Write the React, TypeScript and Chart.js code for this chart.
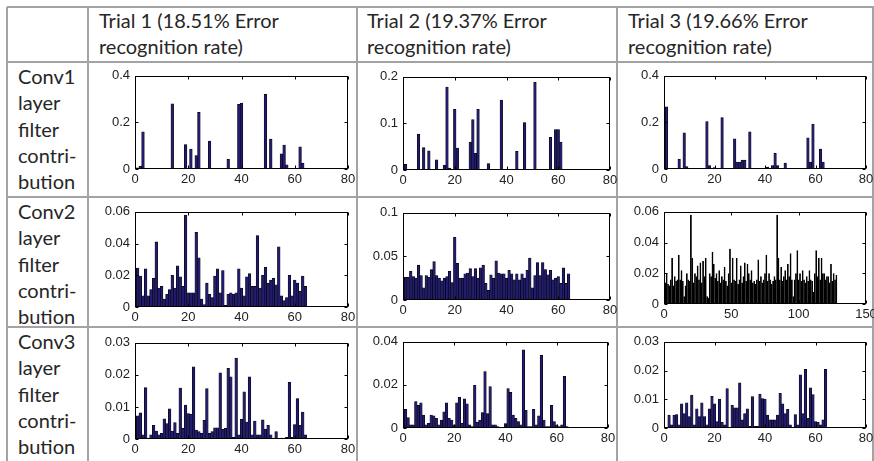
import React, { useEffect, useRef } from "react";
import { Chart, registerables } from "chart.js";

Chart.register(...registerables);

// ---------------- data ----------------
const headerLines: string[][] = [
  ["Trial 1 (18.51% Error", "recognition rate)"],
  ["Trial 2 (19.37% Error", "recognition rate)"],
  ["Trial 3 (19.66% Error", "recognition rate)"],
];

const rowLabelLines: string[][] = [
  ["Conv1", "layer", "filter", "contri-", "bution"],
  ["Conv2", "layer", "filter", "contri-", "bution"],
  ["Conv3", "layer", "filter", "contri-", "bution"],
];

const conv1Trial1 = [
  0.005, 0.012, 0.16, 0, 0, 0, 0, 0,
  0, 0, 0, 0, 0, 0.28, 0, 0,
  0, 0, 0.105, 0, 0.086, 0, 0.058, 0.243,
  0.002, 0, 0, 0.12, 0, 0, 0, 0,
  0, 0, 0.042, 0, 0, 0, 0.278, 0.283,
  0, 0, 0, 0, 0, 0, 0, 0,
  0.32, 0, 0.128, 0, 0, 0, 0.065, 0.103,
  0.018, 0, 0, 0, 0, 0.095, 0.025, 0.003,
];

const conv1Trial2 = [
  0.012, 0, 0, 0, 0, 0.077, 0, 0.048,
  0, 0.041, 0, 0, 0.022, 0, 0, 0.01,
  0.178, 0.004, 0, 0.13, 0.047, 0, 0, 0,
  0, 0.06, 0.108, 0.036, 0.13, 0, 0, 0,
  0.014, 0, 0, 0, 0, 0.15, 0, 0,
  0, 0, 0, 0.04, 0, 0, 0.102, 0,
  0, 0, 0.188, 0, 0, 0, 0, 0,
  0.07, 0, 0.087, 0.087, 0.06, 0, 0, 0,
];

const conv1Trial3 = [
  0.267, 0, 0, 0, 0, 0.042, 0, 0.155,
  0.01, 0, 0, 0, 0, 0, 0, 0,
  0.204, 0.015, 0, 0.006, 0, 0, 0.221, 0,
  0, 0, 0.003, 0.13, 0.03, 0.03, 0.038, 0.038,
  0, 0.16, 0, 0, 0, 0, 0, 0,
  0.008, 0, 0.015, 0.067, 0.015, 0, 0, 0.025,
  0, 0, 0, 0, 0, 0, 0, 0,
  0.134, 0.03, 0.193, 0, 0, 0.085, 0.03, 0,
];

const conv2Trial1 = [
  0.0246, 0.0195, 0.007, 0.024, 0.007, 0.011, 0.018, 0.041,
  0.012, 0.013, 0.005, 0.008, 0.011, 0.02, 0.012, 0.026,
  0.019, 0.013, 0.058, 0.009, 0.009, 0.009, 0.047, 0.031,
  0.005, 0.0015, 0.015, 0.008, 0.006, 0.0195, 0.024, 0.009,
  0.023, 0.001, 0.008, 0.009, 0.008, 0.009, 0.024, 0.012,
  0.007, 0.019, 0.021, 0.013, 0.013, 0.045, 0.012, 0.02,
  0.025, 0.015, 0.017, 0.018, 0.014, 0.038, 0.007, 0.004,
  0.006, 0.02, 0.007, 0.017, 0.015, 0.01, 0.0195, 0.013,
];

const conv2Trial2 = [
  0.026, 0.026, 0.033, 0.027, 0.025, 0.04, 0.028, 0.014,
  0.028, 0.026, 0.035, 0.044, 0.028, 0.025, 0.022, 0.025,
  0.027, 0.033, 0.02, 0.072, 0.042, 0.025, 0.025, 0.03,
  0.031, 0.036, 0.027, 0.036, 0.025, 0.037, 0.04, 0.019,
  0.011, 0.029, 0.025, 0.045, 0.031, 0.03, 0.03, 0.025,
  0.034, 0.03, 0.023, 0.03, 0.023, 0.03, 0.025, 0.034,
  0.048, 0.014, 0.028, 0.043, 0.028, 0.043, 0.035, 0.029,
  0.034, 0.023, 0.025, 0.027, 0.019, 0.037, 0.019, 0.03,
];

const conv2Trial3 = [
  0.014, 0.02, 0.013, 0.012, 0.016, 0.03, 0.012, 0.018,
  0.015, 0.016, 0.032, 0.016, 0.022, 0.015, 0.005, 0.012,
  0.02, 0.016, 0.015, 0.058, 0.03, 0.014, 0.02, 0.018,
  0.025, 0.016, 0.027, 0.014, 0.028, 0.018, 0.03, 0.005,
  0.004, 0.02, 0.018, 0.034, 0.026, 0.017, 0.02, 0.015,
  0.022, 0.014, 0.018, 0.016, 0.024, 0.015, 0.012, 0.02,
  0.036, 0.014, 0.03, 0.016, 0.015, 0.03, 0.013, 0.016,
  0.025, 0.014, 0.018, 0.027, 0.015, 0.026, 0.02, 0.016,
  0.022, 0.014, 0.015, 0.013, 0.016, 0.029, 0.015, 0.018,
  0.014, 0.016, 0.02, 0.032, 0.015, 0.02, 0.016, 0.013,
  0.015, 0.018, 0.016, 0.058, 0.03, 0.016, 0.024, 0.015,
  0.018, 0.022, 0.016, 0.026, 0.018, 0.033, 0.016, 0.005,
  0.016, 0.02, 0.035, 0.016, 0.02, 0.015, 0.022, 0.016,
  0.014, 0.018, 0.015, 0.022, 0.016, 0.015, 0.008, 0.02,
  0.035, 0.018, 0.03, 0.016, 0.03, 0.02, 0.02, 0.016,
  0.018, 0.018, 0.014, 0.026, 0.015, 0.02, 0.016, 0.019,
];

const conv3Trial1 = [
  0.0072, 0.0082, 0.0013, 0.016, 0.0003, 0.0013, 0.0043, 0.0025,
  0.0013, 0.0018, 0.0063, 0.0048, 0.0094, 0.0025, 0.0051, 0.0018,
  0.0159, 0.0033, 0.0106, 0.0079, 0.0077, 0.0225, 0.0028, 0.0023,
  0.0018, 0.0058, 0.0157, 0.0018, 0.0023, 0.0035, 0.0035, 0.0206,
  0.003, 0.0033, 0.022, 0.0194, 0.0005, 0.0252, 0.0013, 0.0061,
  0.0147, 0.0053, 0.0194, 0.0013, 0.0056, 0.0013, 0.0013, 0.006,
  0.0031, 0.0043, 0.0013, 0.0003, 0.0023, 0.0001, 0.0003, 0.0003,
  0.0005, 0.0177, 0.0005, 0.0045, 0.0126, 0.0043, 0.0084, 0.0013,
];

const conv3Trial2 = [
  0.0087, 0.0048, 0.0015, 0.0015, 0.0123, 0.0105, 0.0117, 0.006,
  0.0015, 0.0022, 0.006, 0.0057, 0.0045, 0.0015, 0.0037, 0.0075,
  0.0117, 0.0045, 0.0037, 0.0015, 0.0117, 0.0142, 0.0022, 0.0135,
  0.0112, 0.0015, 0.0007, 0.0198, 0.0027, 0.0037, 0.0072, 0.0262,
  0.0067, 0.0192, 0.0015, 0.0015, 0.0007, 0.0003, 0.0003, 0.0021,
  0.0183, 0.0165, 0.006, 0.0045, 0.003, 0.0015, 0.0363, 0.0082,
  0.0007, 0.0007, 0.0087, 0.0015, 0.0057, 0.0337, 0.0037, 0.0007,
  0.0007, 0.0105, 0.003, 0.0015, 0.0007, 0.0015, 0.024, 0.0007,
];

const conv3Trial3 = [
  0.0002, 0.0045, 0.0011, 0.0045, 0.0047, 0.0011, 0.0084, 0.005,
  0.0088, 0.004, 0.0115, 0.0011, 0.0067, 0.004, 0.0088, 0.004,
  0.0011, 0.0067, 0.011, 0.0084, 0.0022, 0.0101, 0.002, 0.0011,
  0.0137, 0.0002, 0.0079, 0.007, 0.007, 0.0157, 0.0028, 0.005,
  0.0067, 0.0006, 0.0109, 0.0006, 0.0006, 0.0118, 0.0102, 0.0101,
  0.0045, 0.0028, 0.0028, 0.0028, 0.0045, 0.0121, 0.0084, 0.005,
  0.0065, 0.0011, 0.0002, 0.0047, 0.0011, 0.0185, 0.005, 0.0204,
  0.0034, 0.014, 0.0116, 0.0022, 0.002, 0.0011, 0.0028, 0.0204,
];

const panelSeries: number[][][] = [
  [conv1Trial1, conv1Trial2, conv1Trial3],
  [conv2Trial1, conv2Trial2, conv2Trial3],
  [conv3Trial1, conv3Trial2, conv3Trial3],
];

const yMaxes = [[0.4, 0.2, 0.4], [0.06, 0.1, 0.06], [0.03, 0.04, 0.03]];
const ySteps = [[0.2, 0.1, 0.2], [0.02, 0.05, 0.02], [0.01, 0.02, 0.01]];
const xMaxes = [[80, 80, 80], [80, 80, 150], [80, 80, 80]];
const xSteps = [[20, 20, 20], [20, 20, 50], [20, 20, 20]];

// ---------------- layout / style ----------------
// plot boxes: [left, top, right, bottom] of each axes frame
const plotBoxes = [
  [[135, 73, 348, 169], [403, 74, 610, 170], [664, 73, 866, 169]],
  [[135, 209, 348, 307], [403, 210, 610, 300], [664, 209, 866, 304]],
  [[135, 340, 348, 439], [403, 339, 608, 428], [664, 339, 866, 428]],
];
const edgeWidths = [[0.6, 0.6, 0.6], [0.6, 0.6, 1.0], [0.6, 0.6, 0.6]];
const barWidthFactors = [[1, 1, 1], [1, 1, 1.35], [1, 1, 1]];
const BAR_FILL = "rgb(34,28,110)";
const BAR_FILL_DENSE = "rgb(12,10,40)";
const fills = [
  [BAR_FILL, BAR_FILL, BAR_FILL],
  [BAR_FILL, BAR_FILL, BAR_FILL_DENSE],
  [BAR_FILL, BAR_FILL, BAR_FILL],
];
const hLines = [7, 62, 197, 327];
const vLines = [7, 88, 357, 617, 873];
const headerX = [99, 367, 628];
const rowTops = [63, 198, 328];

const PAD_L = 50;
const PAD_T = 10;
const PAD_R = 18;
const PAD_B = 22;
const BAR_EDGE = "#000";
const TEXT_FONT = "Lato, 'Noto Sans', sans-serif";
const TICK_FONT = "'Liberation Sans', Arial, sans-serif";

const framePlugin = {
  id: "matlabFrame",
  afterDraw(chart: any) {
    const { ctx, chartArea: a, scales } = chart;
    ctx.save();
    ctx.strokeStyle = "#000";
    ctx.lineWidth = 1;
    const l = Math.round(a.left) + 0.5;
    const r = Math.round(a.right) - 0.5;
    const t = Math.round(a.top) + 0.5;
    const b = Math.round(a.bottom) - 0.5;
    ctx.strokeRect(l, t, r - l, b - t);
    ctx.beginPath();
    const tl = 3;
    for (const tk of scales.x.ticks) {
      const px = Math.round(scales.x.getPixelForValue(tk.value)) + 0.5;
      ctx.moveTo(px, b);
      ctx.lineTo(px, b - tl);
      ctx.moveTo(px, t);
      ctx.lineTo(px, t + tl);
    }
    for (const tk of scales.y.ticks) {
      const py = Math.round(scales.y.getPixelForValue(tk.value)) + 0.5;
      ctx.moveTo(l, py);
      ctx.lineTo(l + tl, py);
      ctx.moveTo(r, py);
      ctx.lineTo(r - tl, py);
    }
    ctx.stroke();
    ctx.restore();
  },
};

function fmt(v: number) {
  return String(Number(Number(v).toFixed(4)));
}

function BarPanel(props: {
  values: number[];
  xMax: number;
  xStep: number;
  yMax: number;
  yStep: number;
  box: number[];
  edge: number;
  fill: string;
  widthFactor: number;
}) {
  const { values, xMax, xStep, yMax, yStep, box, edge, fill, widthFactor } = props;
  const ref = useRef<HTMLCanvasElement>(null);
  const [L, T, R, B] = box;
  const w = R - L + PAD_L + PAD_R;
  const h = B - T + PAD_T + PAD_B;

  useEffect(() => {
    const chart = new Chart(ref.current as HTMLCanvasElement, {
      type: "bar",
      data: {
        datasets: [
          {
            data: values.map((v, i) => ({ x: i + 1, y: v })),
            backgroundColor: fill,
            borderColor: BAR_EDGE,
            borderWidth: edge,
            borderSkipped: false,
            barPercentage: widthFactor,
            categoryPercentage: 1,
          } as any,
        ],
      },
      options: {
        responsive: false,
        animation: false,
        devicePixelRatio: 1,
        layout: { padding: { left: 0, top: PAD_T, right: PAD_R, bottom: 0 } },
        plugins: { legend: { display: false }, tooltip: { enabled: false } },
        scales: {
          x: {
            type: "linear",
            min: 0,
            max: xMax,
            offset: false,
            grid: { display: false, drawTicks: false, tickLength: 0 },
            border: { display: false },
            ticks: {
              stepSize: xStep,
              padding: 3,
              autoSkip: false,
              maxRotation: 0,
              color: "#222",
              font: { family: TICK_FONT, size: 13 },
              callback: (v: any) => String(v),
            },
            afterFit: (s: any) => {
              s.height = PAD_B;
            },
          },
          y: {
            min: 0,
            max: yMax,
            grid: { display: false, drawTicks: false, tickLength: 0 },
            border: { display: false },
            ticks: {
              stepSize: yStep,
              padding: 5,
              color: "#222",
              font: { family: TICK_FONT, size: 13 },
              callback: (v: any) => fmt(v),
            },
            afterFit: (s: any) => {
              s.width = PAD_L;
            },
          },
        },
      } as any,
      plugins: [framePlugin],
    });
    return () => chart.destroy();
  }, []);

  return (
    <canvas
      ref={ref}
      width={w}
      height={h}
      style={{ position: "absolute", left: L - PAD_L, top: T - PAD_T, width: w, height: h }}
    />
  );
}

export default function App() {
  const lineColor = "#a3a3a3";
  return (
    <div
      style={{
        position: "fixed",
        left: 0,
        top: 0,
        width: 874,
        height: 461,
        overflow: "hidden",
        background: "#fff",
      }}
    >
      {hLines.map((y, i) => (
        <div
          key={"h" + i}
          style={{ position: "absolute", left: vLines[0], top: y - 1, width: 874 - vLines[0], height: 2, background: lineColor }}
        />
      ))}
      {vLines.map((x, i) => (
        <div
          key={"v" + i}
          style={{ position: "absolute", left: x - 1, top: hLines[0], width: 2, height: 461 - hLines[0], background: lineColor }}
        />
      ))}
      {headerLines.map((lines, i) => (
        <div
          key={"hd" + i}
          style={{
            position: "absolute",
            left: headerX[i],
            top: 7,
            fontFamily: TEXT_FONT,
            fontSize: 20,
            lineHeight: "26px",
            color: "#262626",
            whiteSpace: "nowrap",
          }}
        >
          {lines.map((t, j) => (
            <div key={j}>{t}</div>
          ))}
        </div>
      ))}
      {rowLabelLines.map((lines, i) => (
        <div
          key={"rl" + i}
          style={{
            position: "absolute",
            left: 18,
            top: rowTops[i],
            fontFamily: TEXT_FONT,
            fontSize: 20,
            lineHeight: "26.3px",
            color: "#262626",
            whiteSpace: "nowrap",
          }}
        >
          {lines.map((t, j) => (
            <div key={j}>{t}</div>
          ))}
        </div>
      ))}
      {panelSeries.map((row, r) =>
        row.map((vals, c) => (
          <BarPanel
            key={r + "-" + c}
            values={vals}
            xMax={xMaxes[r][c]}
            xStep={xSteps[r][c]}
            yMax={yMaxes[r][c]}
            yStep={ySteps[r][c]}
            box={plotBoxes[r][c]}
            edge={edgeWidths[r][c]}
            fill={fills[r][c]}
            widthFactor={barWidthFactors[r][c]}
          />
        ))
      )}
    </div>
  );
}
